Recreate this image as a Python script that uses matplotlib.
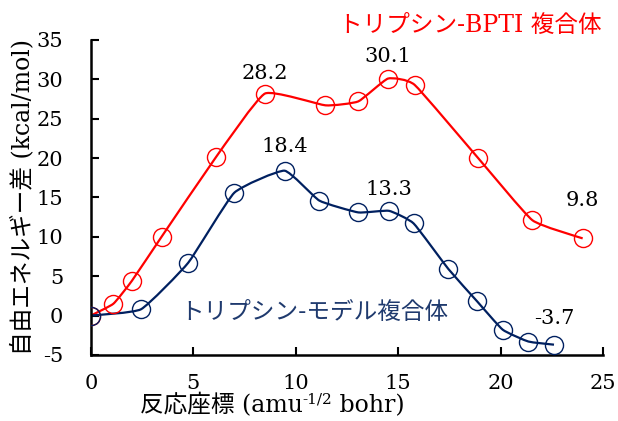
import matplotlib
matplotlib.use("Agg")
import matplotlib.pyplot as plt
from matplotlib.path import Path
from matplotlib.patches import PathPatch
import numpy as np

# reaction coordinate (amu^-1/2 bohr) and free energy difference (kcal/mol)
bpti_x = [0.0, 1.1, 2.0, 3.45, 6.1, 8.5, 11.45, 13.05, 14.5, 15.8, 18.9, 21.55, 24.0]
bpti_y = [0.0, 1.5, 4.4, 10.0, 20.1, 28.2, 26.7, 27.2, 30.1, 29.3, 20.0, 12.1, 9.8]

model_x = [0.0, 2.45, 4.75, 7.0, 9.45, 11.15, 13.05, 14.55, 15.75, 17.45, 18.85, 20.1, 21.35, 22.6]
model_y = [0.0, 0.8, 6.7, 15.6, 18.4, 14.6, 13.1, 13.3, 11.7, 5.9, 1.8, -1.8, -3.3, -3.7]

# labelled values: (x, y, dx, dy) offsets in pixels
bpti_labels = [(8.5, 28.2, 0, 20), (14.5, 30.1, 0, 22), (24.0, 9.8, 0, 38)]
model_labels = [(9.45, 18.4, 0, 24), (14.55, 13.3, 0, 21), (22.6, -3.7, 0, 26)]

RED = "#FF0000"
NAVY = "#002060"
SERIF = "DejaVu Serif"
JP = [SERIF, "Noto Sans CJK JP"]

plt.rcParams["font.family"] = JP
plt.rcParams["axes.unicode_minus"] = False

# how far the smoothing control points reach toward the neighbours
TENSION = 1.0 / 14.0


# smooth_path()
# builds a bezier path through the points, with catmull-rom style
# control points pulled in by TENSION so the curve doesn't overshoot
def smooth_path(x, y):
	pts = np.column_stack([x, y])
	n = len(pts)
	verts = [pts[0]]
	codes = [Path.MOVETO]
	for i in range(n - 1):
		p0 = pts[max(i - 1, 0)]
		p1 = pts[i]
		p2 = pts[i + 1]
		p3 = pts[min(i + 2, n - 1)]
		c1 = p1 + (p2 - p0) * TENSION
		c2 = p2 - (p3 - p1) * TENSION
		verts += [c1, c2, p2]
		codes += [Path.CURVE4] * 3
	return Path(verts, codes)


fig = plt.figure(figsize=(6.18, 4.21), dpi=100)
ax = fig.add_axes([0.147, 0.157, 0.829, 0.748])

for x, y, c in [(bpti_x, bpti_y, RED), (model_x, model_y, NAVY)]:
	ax.add_patch(PathPatch(smooth_path(x, y), fill=False, edgecolor=c,
				lw=1.6, zorder=2))
	ax.plot(x, y, linestyle="none", marker="o", markersize=13,
		markerfacecolor="none", markeredgecolor=c, markeredgewidth=1.0,
		zorder=3)

for x, y, dx, dy in bpti_labels + model_labels:
	ax.annotate("{0:.1f}".format(y), (x, y), xytext=(dx, dy),
		textcoords="offset pixels", ha="center", va="center",
		fontsize=15, family=SERIF)

ax.text(18.5, 36.9, "トリプシン-BPTI 複合体", color=RED, fontsize=17,
	ha="center", va="center", family=JP)
ax.text(10.9, 0.35, "トリプシン-モデル複合体", color="#1F3A6E",
	fontsize=17, ha="center", va="center",
	family=["Noto Sans CJK JP", "DejaVu Sans"])

ax.set_xlim(0, 25)
ax.set_ylim(-5, 35)
ax.set_xticks(range(0, 26, 5))
ax.set_yticks(range(-5, 36, 5))
ax.tick_params(direction="in", length=6, width=1.5, labelsize=15)
ax.tick_params(axis="x", pad=14)
ax.tick_params(axis="y", pad=20)
for s in ["top", "right"]:
	ax.spines[s].set_visible(False)
for s in ["left", "bottom"]:
	ax.spines[s].set_linewidth(1.8)

# x axis title, pieced together so the superscript keeps the serif font
t1 = fig.text(0.226, 0.008, "反応座標 (amu", fontsize=17, family=JP,
	va="bottom")
t2 = ax.annotate("-1/2", xy=(1, 0.45), xycoords=t1, fontsize=11,
	family=SERIF, va="bottom")
ax.annotate(" bohr)", xy=(1, 0), xycoords=(t2, t1), fontsize=17,
	family=JP, va="bottom")

ax.set_ylabel("自由エネルギー差 (kcal/mol)", fontsize=17)
ax.yaxis.set_label_coords(-0.11, 0.5)

plt.savefig("out.png", dpi=100)
